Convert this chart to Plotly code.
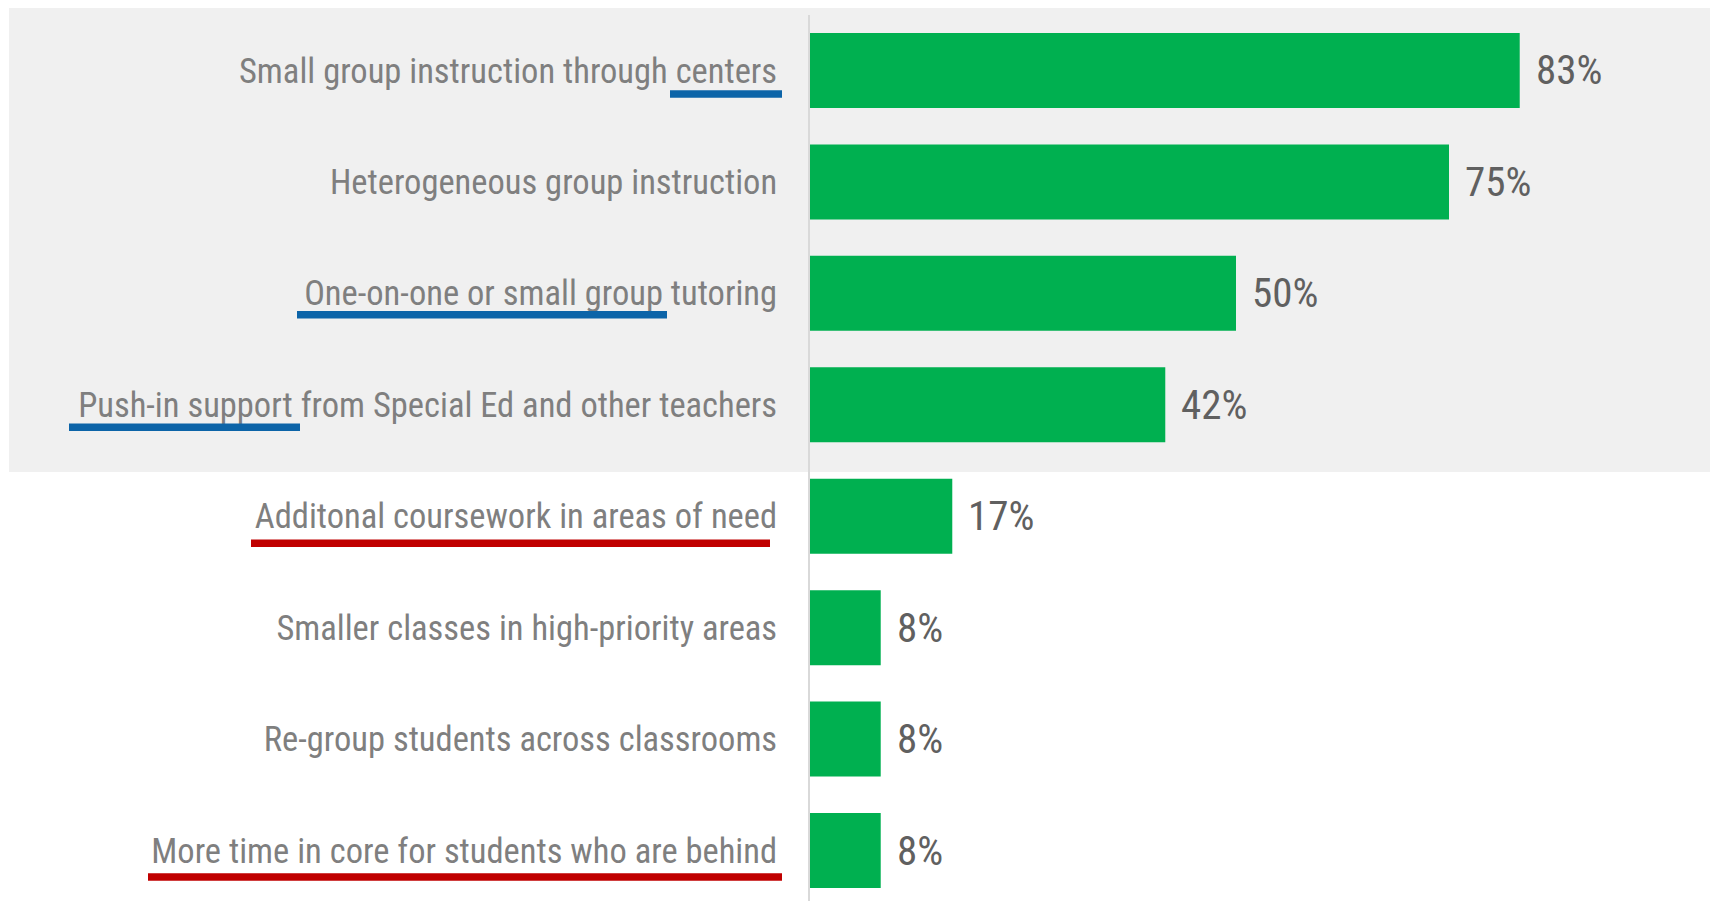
import plotly.graph_objects as go

# ---- data ----
categories = [
    "Small group instruction through centers",
    "Heterogeneous group instruction",
    "One-on-one or small group tutoring",
    "Push-in support from Special Ed and other teachers",
    "Additonal coursework in areas of need",
    "Smaller classes in high-priority areas",
    "Re-group students across classrooms",
    "More time in core for students who are behind",
]
values = [83.3, 75.0, 50.0, 41.7, 16.7, 8.3, 8.3, 8.3]
value_labels = ["83%", "75%", "50%", "42%", "17%", "8%", "8%", "8%"]

# ---- styling ----
FONT = "Liberation Sans Narrow, Arial Narrow, Roboto Condensed, Liberation Sans, sans-serif"
GREEN = "#00B050"
BLUE = "#0C64A8"
RED = "#C00000"
W, H = 1710, 901
L, R, T, B = 810, 48, 15, 0
PW = W - L - R
PH = H - T - B

def px_to_paper_x(px):
    return (px - L) / PW

def px_to_paper_y(py):
    return (H - B - py) / PH

# underline decorations: (category index, left px, right px, offset, color)
underlines = [
    (0, 670, 782, 0.211, BLUE),
    (2, 297, 667, 0.193, BLUE),
    (3, 69, 300, 0.202, BLUE),
    (4, 251, 770, 0.242, RED),
    (7, 148, 782, 0.238, RED),
]

fig = go.Figure()
fig.add_trace(go.Bar(
    x=values, y=categories, orientation="h",
    marker=dict(color=GREEN, line=dict(width=0)),
    hoverinfo="skip",
))

annotations = []
for cat, v, lab in zip(categories, values, value_labels):
    annotations.append(dict(
        x=v, y=cat, xref="x", yref="y", text=lab, showarrow=False,
        xanchor="left", yanchor="middle", xshift=14,
        font=dict(family=FONT, size=41, color="#606060"),
    ))

shapes = [dict(
    type="rect", xref="paper", yref="paper",
    x0=px_to_paper_x(9), x1=px_to_paper_x(W),
    y0=px_to_paper_y(472), y1=px_to_paper_y(8),
    fillcolor="#F0F0F0", line=dict(width=0), layer="below",
)]
for idx, x0, x1, off, col in underlines:
    shapes.append(dict(
        type="line", xref="paper", yref="y",
        x0=px_to_paper_x(x0), x1=px_to_paper_x(x1),
        y0=idx + off, y1=idx + off,
        line=dict(color=col, width=7.5),
    ))

fig.update_layout(
    width=W, height=H,
    margin=dict(l=L, r=R, t=T, b=B, pad=0),
    paper_bgcolor="white", plot_bgcolor="rgba(0,0,0,0)",
    bargap=0.327, showlegend=False,
    annotations=annotations, shapes=shapes,
    xaxis=dict(range=[0, 100], visible=False, showgrid=False, zeroline=False),
    yaxis=dict(
        type="category", categoryorder="array", categoryarray=categories,
        range=[7.453, -0.498], showgrid=False, zeroline=False,
        showline=True, linecolor="#D9D9D9", linewidth=2,
        ticks="", ticklabelstandoff=24,
        tickfont=dict(family=FONT, size=34.5, color="#7F7F7F"),
    ),
)

fig.write_html("out.html")
